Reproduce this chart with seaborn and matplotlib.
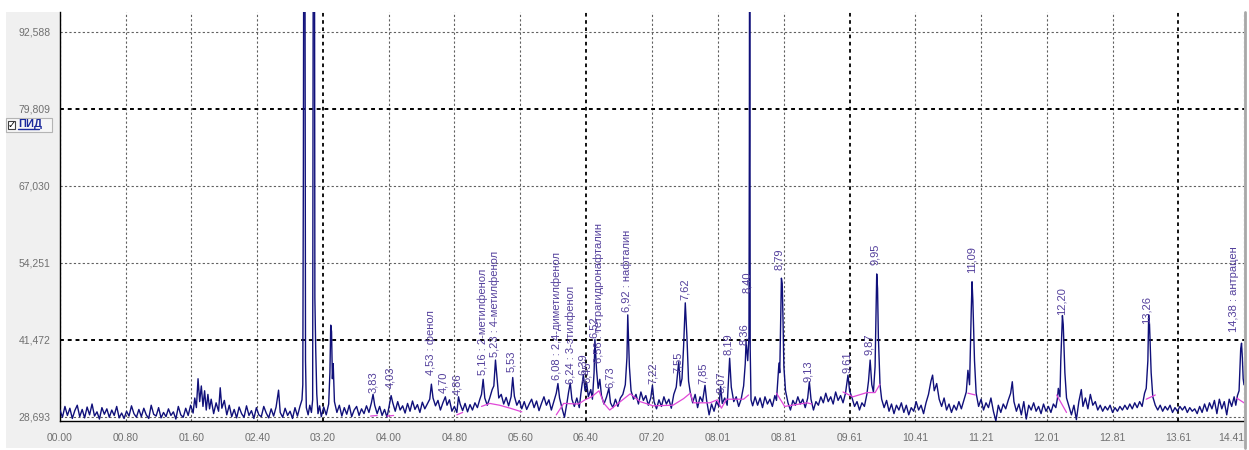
import matplotlib.pyplot as plt
import seaborn as sns
from matplotlib.ticker import FixedLocator, AutoMinorLocator
from matplotlib.patches import Rectangle
from matplotlib.lines import Line2D


# Chromatogram trace: retention time (min) and detector signal
trace_time = [
    0.00, 0.03, 0.06, 0.09, 0.12, 0.15, 0.18, 0.21, 0.24, 0.27,
    0.30, 0.33, 0.36, 0.39, 0.42, 0.45, 0.48, 0.51, 0.54, 0.57,
    0.60, 0.63, 0.66, 0.69, 0.72, 0.75, 0.78, 0.81, 0.84, 0.87,
    0.90, 0.93, 0.96, 0.99, 1.02, 1.05, 1.08, 1.11, 1.14, 1.17,
    1.20, 1.23, 1.26, 1.29, 1.32, 1.35, 1.38, 1.41, 1.44, 1.47,
    1.50, 1.53, 1.56, 1.59, 1.62, 1.64, 1.66, 1.68, 1.70, 1.72,
    1.74, 1.76, 1.78, 1.80, 1.82, 1.84, 1.87, 1.90, 1.93, 1.95,
    1.97, 2.00, 2.03, 2.06, 2.09, 2.12, 2.15, 2.18, 2.21, 2.24,
    2.27, 2.30, 2.33, 2.36, 2.39, 2.42, 2.45, 2.48, 2.51, 2.54,
    2.57, 2.60, 2.63, 2.66, 2.68, 2.71, 2.74, 2.77, 2.80, 2.83,
    2.86, 2.89, 2.92, 2.945, 2.955, 2.962, 2.970, 2.978, 2.988, 2.998,
    3.02, 3.04, 3.06, 3.075, 3.085, 3.095, 3.102, 3.112, 3.125, 3.14,
    3.16, 3.18, 3.21, 3.24, 3.27, 3.285, 3.295, 3.305, 3.315, 3.325,
    3.34, 3.37, 3.40, 3.43, 3.46, 3.49, 3.52, 3.55, 3.58, 3.61,
    3.64, 3.67, 3.70, 3.73, 3.76, 3.79, 3.81, 3.83, 3.86, 3.89,
    3.92, 3.95, 3.98, 4.01, 4.03, 4.05, 4.08, 4.11, 4.14, 4.17,
    4.20, 4.23, 4.26, 4.29, 4.32, 4.35, 4.38, 4.41, 4.44, 4.47,
    4.50, 4.52, 4.54, 4.57, 4.60, 4.63, 4.66, 4.69, 4.71, 4.74,
    4.77, 4.80, 4.83, 4.85, 4.87, 4.90, 4.93, 4.96, 4.99, 5.02,
    5.05, 5.08, 5.11, 5.13, 5.15, 5.17, 5.20, 5.23, 5.26, 5.28,
    5.30, 5.32, 5.34, 5.37, 5.40, 5.43, 5.46, 5.49, 5.51, 5.53,
    5.56, 5.59, 5.62, 5.65, 5.68, 5.71, 5.74, 5.77, 5.80, 5.83,
    5.86, 5.89, 5.92, 5.95, 5.98, 6.01, 6.04, 6.06, 6.08, 6.11,
    6.14, 6.17, 6.19, 6.21, 6.23, 6.26, 6.29, 6.32, 6.34, 6.37,
    6.39, 6.41, 6.43, 6.46, 6.48, 6.50, 6.51, 6.53, 6.55, 6.57,
    6.59, 6.62, 6.65, 6.68, 6.70, 6.73, 6.76, 6.79, 6.82, 6.85,
    6.88, 6.90, 6.91, 6.93, 6.95, 6.98, 7.01, 7.04, 7.07, 7.10,
    7.13, 7.16, 7.19, 7.21, 7.23, 7.26, 7.29, 7.32, 7.35, 7.38,
    7.41, 7.44, 7.47, 7.50, 7.53, 7.55, 7.57, 7.59, 7.61, 7.63,
    7.65, 7.67, 7.70, 7.73, 7.76, 7.79, 7.82, 7.85, 7.87, 7.90,
    7.93, 7.96, 7.99, 8.02, 8.04, 8.06, 8.09, 8.12, 8.15, 8.17,
    8.20, 8.23, 8.26, 8.29, 8.32, 8.34, 8.35, 8.37, 8.385, 8.39,
    8.394, 8.40, 8.41, 8.43, 8.46, 8.49, 8.52, 8.55, 8.58, 8.61,
    8.64, 8.67, 8.70, 8.72, 8.75, 8.76, 8.77, 8.78, 8.79, 8.80,
    8.81, 8.83, 8.86, 8.89, 8.92, 8.95, 8.98, 9.01, 9.04, 9.07,
    9.10, 9.12, 9.14, 9.17, 9.20, 9.23, 9.26, 9.29, 9.32, 9.35,
    9.38, 9.41, 9.44, 9.47, 9.50, 9.53, 9.56, 9.59, 9.61, 9.64,
    9.67, 9.70, 9.73, 9.76, 9.79, 9.82, 9.84, 9.86, 9.88, 9.90,
    9.92, 9.94, 9.95, 9.96, 9.98, 10.00, 10.03, 10.06, 10.09, 10.12,
    10.15, 10.18, 10.21, 10.24, 10.27, 10.30, 10.33, 10.36, 10.39, 10.42,
    10.45, 10.48, 10.51, 10.54, 10.57, 10.60, 10.62, 10.64, 10.67, 10.70,
    10.73, 10.76, 10.79, 10.82, 10.85, 10.88, 10.91, 10.94, 10.97, 11.00,
    11.03, 11.05, 11.07, 11.09, 11.10, 11.11, 11.13, 11.15, 11.18, 11.21,
    11.24, 11.27, 11.30, 11.33, 11.36, 11.39, 11.42, 11.45, 11.48, 11.51,
    11.54, 11.57, 11.59, 11.61, 11.64, 11.67, 11.70, 11.73, 11.76, 11.79,
    11.82, 11.85, 11.88, 11.91, 11.94, 11.97, 12.00, 12.03, 12.06, 12.09,
    12.12, 12.14, 12.15, 12.17, 12.18, 12.20, 12.21, 12.23, 12.25, 12.28,
    12.31, 12.34, 12.37, 12.40, 12.43, 12.45, 12.48, 12.51, 12.54, 12.57,
    12.60, 12.63, 12.66, 12.69, 12.72, 12.75, 12.78, 12.81, 12.84, 12.87,
    12.90, 12.93, 12.96, 12.99, 13.02, 13.05, 13.08, 13.11, 13.14, 13.17,
    13.20, 13.22, 13.24, 13.25, 13.26, 13.28, 13.30, 13.33, 13.36, 13.39,
    13.42, 13.45, 13.48, 13.51, 13.54, 13.57, 13.60, 13.63, 13.66, 13.69,
    13.72, 13.75, 13.78, 13.81, 13.84, 13.87, 13.90, 13.93, 13.96, 13.99,
    14.02, 14.05, 14.08, 14.11, 14.14, 14.17, 14.20, 14.23, 14.26, 14.29,
    14.31, 14.33, 14.35, 14.37, 14.38, 14.39, 14.40, 14.41,
]

trace_signal = [
    29.8, 28.6, 30.4, 28.9, 30.1, 28.4, 29.7, 30.6, 28.7, 29.9,
    28.5, 30.3, 29.0, 30.8, 28.8, 29.5, 28.3, 30.2, 29.1, 30.0,
    28.6, 29.8, 28.9, 30.4, 28.5, 29.3, 28.4, 29.6, 28.8, 30.5,
    29.2, 28.6, 29.9, 28.7, 30.1, 29.0, 28.4, 30.6, 29.1, 28.8,
    30.2, 28.5, 29.4, 28.7, 30.0, 28.9, 29.5, 28.3, 30.4, 29.0,
    28.6, 30.1, 28.9, 30.6, 29.3, 31.8, 30.2, 35.0, 31.2, 33.8,
    30.4, 33.0, 29.8, 32.4, 30.0, 31.6, 29.2, 31.0, 29.6, 33.5,
    30.1, 31.4, 29.0, 30.6, 28.7, 29.9, 28.5, 30.3, 29.2, 28.6,
    30.5, 28.9, 29.7, 28.4, 30.2, 29.0, 28.7, 30.4, 29.3, 28.5,
    30.0, 28.8, 30.3, 33.1, 29.4, 28.6, 30.1, 28.9, 29.6, 28.4,
    30.2, 28.8, 30.4, 31.5, 34.0, 70.0, 140.0, 140.0, 38.0, 30.2,
    29.0, 30.6, 29.4, 31.5, 140.0, 140.0, 48.4, 40.0, 32.5, 29.2,
    30.5, 28.7, 30.3, 29.0, 30.8, 36.0, 43.9, 42.8, 35.0, 37.5,
    31.2, 29.4, 30.6, 28.8, 30.2, 29.1, 30.6, 28.7, 29.8, 30.4,
    28.9, 30.0, 29.2, 30.5, 29.4, 31.0, 32.4, 30.6, 29.2, 30.4,
    28.9, 29.9, 28.6, 30.8, 32.2, 31.0, 29.6, 31.2, 29.8, 30.5,
    29.3, 30.9, 29.6, 31.3, 29.9, 30.7, 29.4, 31.1, 30.0, 30.8,
    31.6, 34.1, 31.8, 30.5, 31.4, 29.8, 31.0, 32.0, 30.6, 31.5,
    29.6, 30.4, 29.4, 32.0, 30.8, 29.7, 30.9, 29.5, 30.7, 29.8,
    31.0, 30.2, 31.6, 32.4, 34.9, 31.8, 30.6, 31.8, 33.2, 33.8,
    38.1, 35.0, 31.8, 32.4, 30.8, 31.9, 30.5, 32.0, 35.2, 32.1,
    30.6, 31.4, 30.0, 31.2, 29.9, 30.8, 31.6, 30.2, 31.3, 29.7,
    30.9, 32.0, 30.6, 31.5, 29.8, 31.2, 32.6, 34.2, 31.8, 30.1,
    28.6, 31.0, 32.8, 34.3, 31.6, 30.4, 31.8, 30.2, 32.6, 35.7,
    33.0, 34.3, 32.0, 33.2, 31.6, 36.0, 41.5, 36.5, 33.4, 34.9,
    32.2, 30.8, 31.9, 33.4, 31.0, 30.2, 31.6, 30.4, 31.8, 32.4,
    34.0, 38.5, 45.6, 37.0, 33.0, 31.6, 32.4, 30.8, 32.8, 31.4,
    32.2, 30.6, 31.8, 33.9, 31.2, 30.0, 31.5, 30.4, 32.0, 30.8,
    31.6, 30.1, 32.4, 33.6, 37.8, 33.8, 35.0, 40.5, 47.6, 42.0,
    34.6, 32.8, 31.0, 32.4, 30.2, 32.0, 31.2, 33.9, 31.4, 29.0,
    30.8, 29.6, 31.2, 30.4, 33.7, 30.9, 31.8, 30.6, 38.4, 33.6,
    31.2, 32.0, 30.4, 31.6, 33.8, 37.5, 41.2, 38.0, 42.0, 74.5,
    140.0, 40.0, 31.5, 30.5, 32.0, 30.6, 31.8, 30.2, 32.0, 30.8,
    31.6, 30.4, 32.2, 31.4, 37.6, 36.0, 44.0, 51.7, 50.8, 44.5,
    37.0, 33.0, 31.0, 29.8, 31.4, 30.6, 32.0, 30.8, 31.6, 30.2,
    31.8, 34.5, 31.6, 29.8, 31.2, 30.6, 32.0, 31.0, 32.6, 31.2,
    32.0, 30.8, 32.8, 31.4, 32.2, 31.0, 32.6, 35.6, 33.0, 31.8,
    30.4, 31.2, 29.8, 31.0, 30.4, 32.4, 34.6, 38.1, 34.0, 32.8,
    37.0, 52.4, 50.0, 42.0, 34.0, 31.6, 30.2, 31.4, 29.6, 30.8,
    29.2, 30.6, 29.8, 31.0, 29.4, 30.6, 29.0, 30.2, 29.6, 31.2,
    29.8, 30.6, 29.2, 31.0, 32.4, 34.6, 35.6, 33.0, 34.2, 31.6,
    30.4, 31.8, 29.8, 30.8, 29.4, 30.6, 29.8, 31.2, 30.0, 31.4,
    32.8, 36.4, 34.0, 46.0, 51.1, 48.0, 38.0, 32.6, 30.4, 31.6,
    29.8, 31.0, 30.2, 31.8, 29.6, 28.0, 30.6, 29.4, 30.8, 30.0,
    31.4, 32.6, 34.5, 31.2, 29.6, 30.8, 29.0, 31.2, 28.3, 30.6,
    29.8, 31.0, 29.6, 30.4, 29.2, 30.8, 29.6, 30.4, 29.4, 30.8,
    30.2, 31.8, 33.4, 32.0, 38.0, 45.5, 44.0, 36.0, 31.8, 30.4,
    29.0, 30.6, 28.2, 31.2, 33.2, 30.4, 31.8, 30.0, 32.4, 30.6,
    31.2, 29.8, 30.6, 29.6, 30.4, 29.8, 30.6, 29.4, 30.2, 29.6,
    30.4, 29.8, 30.6, 29.9, 30.8, 30.0, 31.0, 30.2, 31.2, 30.4,
    32.6, 33.4, 38.0, 45.6, 44.0, 36.0, 32.0, 30.6, 29.8, 30.6,
    29.6, 30.4, 29.8, 30.6, 29.4, 30.2, 29.6, 30.4, 29.8, 30.4,
    29.4, 30.2, 29.6, 30.0, 29.2, 30.4, 29.4, 30.8, 29.6, 31.0,
    30.0, 31.4, 29.2, 31.6, 30.0, 31.2, 29.0, 31.6, 30.4, 32.0,
    30.6, 32.2, 33.0, 40.0, 40.9, 38.5, 35.0, 34.0,
]

# Integration baseline drawn under the peaks (pieces)
baseline_time = [
    [3.78, 3.86],
    [3.98, 4.06],
    [4.83, 4.90],
    [5.13, 5.23, 5.35, 5.48, 5.62],
    [6.04, 6.13, 6.31, 6.39, 6.47, 6.56, 6.62, 6.69, 6.82, 6.94, 7.06,
     7.22, 7.46, 7.59, 7.67, 7.71, 7.91, 8.00, 8.05, 8.11, 8.32, 8.38],
    [8.72, 8.82, 9.09, 9.15],
    [9.53, 9.65, 9.82, 9.92, 9.98],
    [11.05, 11.14],
    [12.13, 12.25],
    [13.22, 13.33],
    [14.32, 14.41],
]
baseline_signal = [
    [28.8, 28.9],
    [28.8, 28.9],
    [29.0, 29.4],
    [30.4, 30.9, 30.6, 30.1, 29.5],
    [29.0, 30.9, 30.8, 31.5, 32.0, 33.0, 30.9, 29.8, 31.2, 32.5, 31.2,
     30.5, 30.6, 31.7, 32.6, 31.0, 31.0, 31.5, 30.1, 31.6, 31.6, 32.3],
    [32.6, 30.4, 31.0, 30.8],
    [32.8, 32.0, 32.7, 32.7, 34.1],
    [32.6, 32.3],
    [32.3, 29.4],
    [31.6, 32.3],
    [31.8, 31.0],
]

# Peak annotations: label position (time, signal) and text
peak_time = [
    3.81, 4.02, 4.51, 4.66, 4.83, 5.14, 5.29, 5.49, 6.04, 6.22, 6.36,
    6.41, 6.50, 6.56, 6.69, 6.90, 7.21, 7.52, 7.61, 7.83, 8.04, 8.13,
    8.33, 8.36, 8.75, 9.10, 9.58, 9.85, 9.92, 11.09, 12.19, 13.23, 14.29,
]
peak_top = [
    32.6, 33.4, 35.6, 32.6, 32.3, 35.6, 38.6, 36.2, 34.8, 34.2, 35.6,
    34.3, 41.7, 37.6, 33.4, 46.1, 34.2, 35.9, 48.1, 34.2, 32.6, 38.9,
    40.6, 49.2, 53.0, 34.5, 35.9, 38.9, 53.9, 52.5, 45.6, 44.1, 42.8,
]
peak_names = [
    '3,83', '4,03', '4,53 : фенол', '4,70', '4,86', '5,16 : 2-метилфенол',
    '5,23 : 4-метилфенол', '5,53', '6,08 : 2,4-диметилфенол',
    '6,24 : 3-этилфенол', '6,39', '6,45', '6,52',
    '6,56 : тетрагидронафталин', '6,73', '6,92 : нафталин', '7,22', '7,55',
    '7,62', '7,85', '8,07', '8,19', '8,36', '8,40', '8,79', '9,13', '9,61',
    '9,87', '9,95', '11,09', '12,20', '13,26', '14,38 : антрацен',
]

x_ticks = [0.00, 0.80, 1.60, 2.40, 3.20, 4.00, 4.80, 5.60, 6.40, 7.20,
           8.01, 8.81, 9.61, 10.41, 11.21, 12.01, 12.81, 13.61, 14.41]
x_tick_labels = ['00.00', '00.80', '01.60', '02.40', '03.20', '04.00',
                 '04.80', '05.60', '06.40', '07.20', '08.01', '08.81',
                 '09.61', '10.41', '11.21', '12.01', '12.81', '13.61',
                 '14.41']
y_ticks = [28.693, 41.472, 54.251, 67.030, 79.809, 92.588]
y_tick_labels = ['28,693', '41,472', '54,251', '67,030', '79,809', '92,588']

# grid lines that look heavier in the screenshot
bold_x = ['03.20', '06.40', '09.61', '13.61']
bold_y = ['41,472', '79,809']


sns.set_style('white')
narrow = ['Liberation Sans Narrow', 'Liberation Sans', 'DejaVu Sans']
plt.rcParams['font.family'] = narrow

W, H = 1249, 450
fig = plt.figure(figsize=(W / 100, H / 100), dpi=100)
fig.patch.set_facecolor('white')

# grey window panel behind the plot
fig.patches.append(Rectangle((6 / W, 2 / H), 1239 / W, 436 / H,
                             transform=fig.transFigure, facecolor='#f0f0f0',
                             edgecolor='none', zorder=-5))

ax = fig.add_axes([60 / W, 1 - 421 / H, 1184 / W, 409 / H])
ax.set_facecolor('white')
ax.set_zorder(1)

sns.lineplot(x=trace_time, y=trace_signal, ax=ax, estimator=None,
             sort=False, color='#10107a', linewidth=1.0, zorder=3)

for bt, bs in zip(baseline_time, baseline_signal):
    sns.lineplot(x=bt, y=bs, ax=ax, estimator=None, sort=False,
                 color='#e048d8', linewidth=0.9, zorder=4)

for t, top, name in zip(peak_time, peak_top, peak_names):
    ax.text(t, top, name, rotation=90, ha='center', va='bottom',
            fontsize=8, color='#54409c', zorder=5)

ax.set_xlim(0, 14.41)
ax.set_ylim(27.98, 95.9)
ax.set_xlabel('')
ax.set_ylabel('')

ax.xaxis.set_major_locator(FixedLocator(x_ticks))
ax.xaxis.set_minor_locator(AutoMinorLocator(3))
ax.set_xticklabels(x_tick_labels)
ax.get_xticklabels()[-1].set_horizontalalignment('right')
ax.yaxis.set_major_locator(FixedLocator(y_ticks))
ax.yaxis.set_minor_locator(AutoMinorLocator(6))
ax.set_yticklabels(y_tick_labels)

ax.tick_params(axis='both', which='both', direction='out', color='black',
               labelcolor='#707070', labelsize=7.5, width=0.9)
ax.tick_params(axis='both', which='major', length=4.5)
ax.tick_params(axis='both', which='minor', length=3.5)
ax.tick_params(axis='y', which='major', pad=2.5)
ax.tick_params(axis='x', which='major', pad=4)

for side in ['top', 'right']:
    ax.spines[side].set_visible(False)
for side in ['left', 'bottom']:
    ax.spines[side].set_color('black')
    ax.spines[side].set_linewidth(1.0)

ax.grid(True, which='major', color='#606060', linestyle=(0, (2, 2)),
        linewidth=0.8)
for line, lab in zip(ax.get_xgridlines(), x_tick_labels):
    if lab in bold_x:
        line.set_color('black')
        line.set_linewidth(1.3)
for line, lab in zip(ax.get_ygridlines(), y_tick_labels):
    if lab in bold_y:
        line.set_color('black')
        line.set_linewidth(1.4)
ax.set_axisbelow(True)

# right window border
fig.lines.append(Line2D([1245 / W, 1245 / W], [1 - 12 / H, 1 - 448 / H],
                        transform=fig.transFigure, color='#a8a8a8',
                        linewidth=2, zorder=6))

# detector legend box  "ПИД"
fig.patches.append(Rectangle((6 / W, 1 - 132 / H), 46 / W, 14 / H,
                             transform=fig.transFigure, facecolor='#f6f6f6',
                             edgecolor='#b4b4b4', linewidth=0.8, zorder=6))
fig.patches.append(Rectangle((8 / W, 1 - 129 / H), 7 / W, 8 / H,
                             transform=fig.transFigure, facecolor='white',
                             edgecolor='#404040', linewidth=0.8, zorder=7))
fig.text(11.5 / W, 1 - 125 / H, '\u2713', ha='center', va='center',
         fontsize=7, fontweight='bold', color='black',
         family=['DejaVu Sans'], zorder=8)
fig.text(18 / W, 1 - 124 / H, 'ПИД', ha='left', va='center', fontsize=8,
         fontweight='bold', color='#1c2a9c', zorder=8)
fig.lines.append(Line2D([18 / W, 39 / W], [1 - 129 / H, 1 - 129 / H],
                        transform=fig.transFigure, color='#1c2a9c',
                        linewidth=1, zorder=8))

fig.savefig('out.png', dpi=100, facecolor='white')
